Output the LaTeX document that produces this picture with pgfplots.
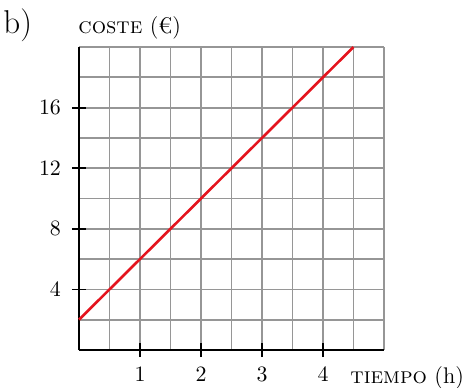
\documentclass[border=0pt]{standalone}
\usepackage{pgfplots}
\pgfplotsset{compat=1.18}
\definecolor{gridgray}{RGB}{150,150,150}
\definecolor{linered}{RGB}{228,20,30}
\begin{document}
\begin{tikzpicture}[font=\fontsize{11}{13}\selectfont]
\useasboundingbox (-39.5pt,-18.5pt) rectangle (193pt,175pt);
\begin{axis}[
  at={(0,0)}, anchor=south west,
  scale only axis,
  width=152.5pt, height=151.5pt,
  xmin=0, xmax=5, ymin=0, ymax=20,
  axis lines*=left,
  axis line style={black, line width=1pt},
  xtick={1,2,3,4}, ytick={4,8,12,16},
  minor xtick={0,0.5,...,5}, minor ytick={0,2,...,20},
  grid=minor,
  minor grid style={gridgray, line width=0.9pt},
  major tick length=7pt, minor tick length=0pt,
  tick align=center,
  tick style={black, line width=0.9pt},
  xticklabel style={yshift=-1.5pt},
  yticklabel style={xshift=-2pt},
  clip=false,
]
\addplot[linered, line width=1.3pt] coordinates {(0,2) (4.5,20)};
\end{axis}
\node[anchor=base west, inner sep=0] at (-38pt,158.5pt) {\fontsize{16.5}{18}\selectfont b)};
\node[anchor=base west, inner sep=0] at (-0.5pt,158.5pt) {\fontsize{11.3}{13}\selectfont\textsc{coste} (€)};
\node[anchor=base west, inner sep=0] at (135.5pt,-16.5pt) {\fontsize{11.3}{13}\selectfont\textsc{tiempo} (h)};
\end{tikzpicture}
\end{document}
